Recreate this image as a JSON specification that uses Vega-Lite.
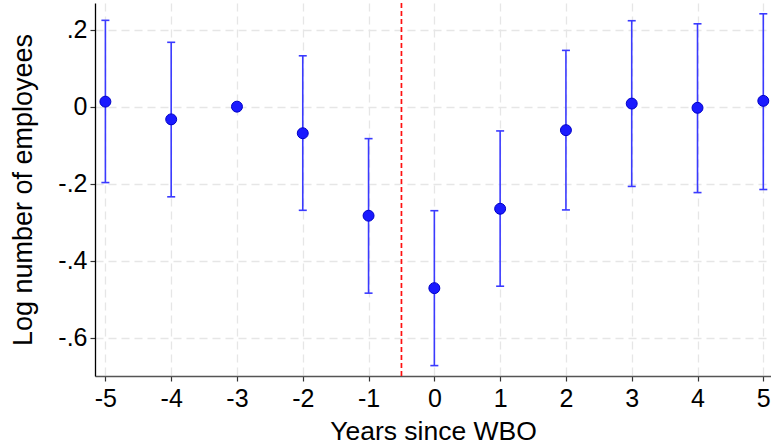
{
  "$schema": "https://vega.github.io/schema/vega-lite/v6.json",
  "width": 676,
  "height": 373,
  "autosize": "none",
  "padding": {"left": 95, "top": 3, "right": 0, "bottom": 70},
  "background": "white",
  "config": {
    "view": {"stroke": null},
    "font": "Liberation Sans",
    "axis": {
      "labelFont": "Liberation Sans",
      "titleFont": "Liberation Sans",
      "labelColor": "black",
      "titleColor": "black",
      "titleFontWeight": "normal",
      "grid": true,
      "gridColor": "#e6e6e6",
      "gridDash": [8, 5],
      "gridWidth": 1.3,
      "tickColor": "#333",
      "tickSize": 5,
      "tickWidth": 1.2
    }
  },
  "data": {
    "values": [
      {"year": -5, "est": 0.013, "lo": -0.197, "hi": 0.224},
      {"year": -4, "est": -0.033, "lo": -0.234, "hi": 0.167},
      {"year": -3, "est": 0.0, "lo": null, "hi": null},
      {"year": -2, "est": -0.069, "lo": -0.269, "hi": 0.132},
      {"year": -1, "est": -0.283, "lo": -0.484, "hi": -0.083},
      {"year": 0, "est": -0.471, "lo": -0.672, "hi": -0.27},
      {"year": 1, "est": -0.265, "lo": -0.466, "hi": -0.063},
      {"year": 2, "est": -0.061, "lo": -0.268, "hi": 0.146},
      {"year": 3, "est": 0.008, "lo": -0.207, "hi": 0.223},
      {"year": 4, "est": -0.003, "lo": -0.223, "hi": 0.215},
      {"year": 5, "est": 0.015, "lo": -0.215, "hi": 0.241}
    ]
  },
  "layer": [
    {
      "mark": {"type": "rule", "color": "#aaaaaa", "strokeDash": [9, 5], "strokeWidth": 2},
      "data": {"values": [{"y": 0}]},
      "encoding": {
        "y": {
          "field": "y",
          "type": "quantitative",
          "scale": {"domain": [-0.699, 0.269], "nice": false, "zero": false},
          "axis": {
            "values": [-0.6, -0.4, -0.2, 0, 0.2],
            "title": "Log number of employees",
            "titleFontSize": 27,
            "titlePadding": 20,
            "labelFontSize": 25,
            "labelPadding": 3,
            "labelExpr": "datum.value == 0 ? '0' : (datum.value < 0 ? '-' : '') + '.' + round(abs(datum.value) * 10)",
            "domainColor": "black",
            "domainWidth": 1.3
          }
        },
        "x": {
          "datum": 0,
          "type": "quantitative",
          "scale": {"domain": [-5.158, 5.117], "nice": false, "zero": false},
          "axis": {
            "values": [-5, -4, -3, -2, -1, 0, 1, 2, 3, 4, 5],
            "title": "Years since WBO",
            "titleFontSize": 26.5,
            "titlePadding": 7,
            "labelFontSize": 25,
            "labelPadding": 5,
            "labelExpr": "(datum.value < 0 ? '-' : '') + abs(datum.value)",
            "domainColor": "#555555",
            "domainWidth": 1.5
          }
        }
      }
    },
    {
      "mark": {"type": "rule", "color": "#ff1010", "strokeDash": [5, 3], "strokeWidth": 1.7},
      "data": {"values": [{"x": -0.5}]},
      "encoding": {"x": {"field": "x", "type": "quantitative"}}
    },
    {
      "mark": {"type": "rule", "color": "#3a3aff", "strokeWidth": 1.6},
      "encoding": {
        "x": {"field": "year", "type": "quantitative"},
        "y": {"field": "lo", "type": "quantitative"},
        "y2": {"field": "hi"}
      }
    },
    {
      "mark": {"type": "tick", "orient": "horizontal", "color": "#3a3aff", "size": 8, "thickness": 1.6, "opacity": 1},
      "encoding": {
        "x": {"field": "year", "type": "quantitative"},
        "y": {"field": "lo", "type": "quantitative"}
      }
    },
    {
      "mark": {"type": "tick", "orient": "horizontal", "color": "#3a3aff", "size": 8, "thickness": 1.6, "opacity": 1},
      "encoding": {
        "x": {"field": "year", "type": "quantitative"},
        "y": {"field": "hi", "type": "quantitative"}
      }
    },
    {
      "mark": {"type": "point", "shape": "circle", "filled": true, "size": 120, "color": "#1a1aff", "opacity": 1, "stroke": "#0000c8", "strokeWidth": 1},
      "encoding": {
        "x": {"field": "year", "type": "quantitative"},
        "y": {"field": "est", "type": "quantitative"}
      }
    }
  ]
}
